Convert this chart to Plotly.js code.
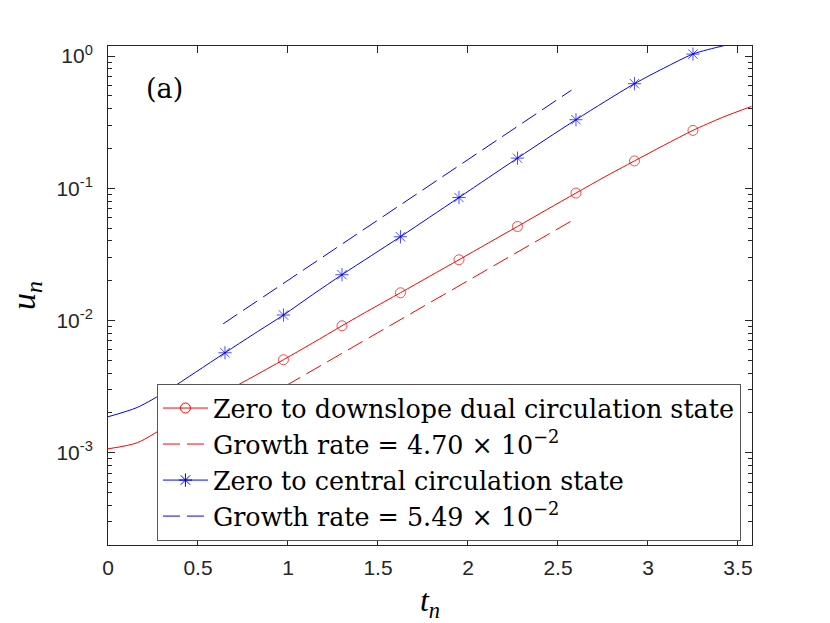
<!DOCTYPE html>
<html>
<head>
<meta charset="utf-8">
<script src="https://cdn.plot.ly/plotly-3.0.1.min.js"></script>
<style>
  html, body { margin: 0; padding: 0; background: #fff; }
  #chart { width: 830px; height: 623px; }
</style>
</head>
<body>
<div id="chart"></div>
<script>
// time samples of the two solid curves
const tCurve = [0, 0.1625, 0.325, 0.4875, 0.65, 0.8125, 0.975, 1.1375, 1.3, 1.4625, 1.625, 1.7875,
    1.95, 2.1125, 2.275, 2.4375, 2.6, 2.7625, 2.925, 3.0875, 3.25, 3.4125, 3.575];
const uDownslope = [1.07e-3, 1.19e-3, 1.59e-3, 2.16e-3, 2.88e-3, 3.80e-3, 5.05e-3, 6.76e-3, 9.12e-3,
    0.0122, 0.0162, 0.0216, 0.0288, 0.0385, 0.0514, 0.0689, 0.092, 0.1225, 0.161, 0.211, 0.274, 0.343, 0.416];
const uCentral = [1.87e-3, 2.20e-3, 2.92e-3, 4.07e-3, 5.70e-3, 7.94e-3, 0.0110, 0.0157, 0.0222,
    0.0309, 0.0430, 0.0605, 0.0851, 0.120, 0.169, 0.237, 0.330, 0.454, 0.618, 0.809, 1.035, 1.19, 1.32];

// where the markers sit on each curve
const downslopeMarkerT = [0.975, 1.3, 1.625, 1.95, 2.275, 2.6, 2.925, 3.25];
const centralMarkerT = [0.65, 0.975, 1.3, 1.625, 1.95, 2.275, 2.6, 2.925, 3.25];

// fitted growth-rate lines
const downslopeFitT = [0.64, 2.595];
const downslopeFitU = [1.71e-3, 0.0587];
const centralFitT = [0.64, 2.575];
const centralFitU = [9.44e-3, 0.552];

const legendNames = [
    'Zero to downslope dual circulation state',
    'Growth rate = 4.70 × 10<sup>−2</sup>',
    'Zero to central circulation state',
    'Growth rate = 5.49 × 10<sup>−2</sup>'
];

const yTickVals = [1e-3, 1e-2, 1e-1, 1];
const yTickText = ['10<sup>-3</sup>', '10<sup>-2</sup>', '10<sup>-1</sup>', '10<sup>0</sup>'];

const RED = '#ff0000';
const BLUE = '#0000ff';
const AXIS = '#262626';
const serif = '"DejaVu Serif", "Liberation Serif", serif';
const mathFont = '"Liberation Serif", "DejaVu Serif", serif';
const sans = '"Liberation Sans", Arial, sans-serif';

const sizesFor = (marks, sz) => tCurve.map(t => marks.some(m => Math.abs(m - t) < 1e-6) ? sz : 0);

const yMinor = [];
[1e-4, 1e-3, 1e-2, 1e-1].forEach(d => {
    for (let k = 2; k <= 9; k++) yMinor.push(d * k);
});

const redMarker = { symbol: 'circle-open', size: 10, color: RED, line: { width: 1, color: RED } };
const blueMarker = { symbol: 'asterisk-open', size: 11, color: BLUE, line: { width: 1, color: BLUE } };
const dash = '17px,7px';

const downslope = {
    x: tCurve, y: uDownslope,
    mode: 'lines+markers', showlegend: false,
    line: { color: RED, width: 1, shape: 'spline', smoothing: 0.8 },
    marker: Object.assign({}, redMarker, { size: sizesFor(downslopeMarkerT, 10) })
};
const downslopeFit = {
    x: downslopeFitT, y: downslopeFitU,
    mode: 'lines', showlegend: false,
    line: { color: RED, width: 1, dash: dash }
};
const central = {
    x: tCurve, y: uCentral,
    mode: 'lines+markers', showlegend: false,
    line: { color: BLUE, width: 1, shape: 'spline', smoothing: 0.8 },
    marker: Object.assign({}, blueMarker, { size: sizesFor(centralMarkerT, 11) })
};
const centralFit = {
    x: centralFitT, y: centralFitU,
    mode: 'lines', showlegend: false,
    line: { color: BLUE, width: 1, dash: dash }
};

// legend entries (no data of their own)
const legendKeys = [
    { mode: 'lines+markers', line: { color: RED, width: 1 }, marker: redMarker },
    { mode: 'lines', line: { color: RED, width: 1, dash: dash } },
    { mode: 'lines+markers', line: { color: BLUE, width: 1 }, marker: blueMarker },
    { mode: 'lines', line: { color: BLUE, width: 1, dash: dash } }
].map((k, i) => Object.assign({ x: [null], y: [null], name: legendNames[i], showlegend: true }, k));

const layout = {
    width: 830, height: 623,
    margin: { l: 108, r: 78, t: 46, b: 78 },
    paper_bgcolor: '#fff',
    plot_bgcolor: '#fff',
    font: { family: sans, size: 21, color: AXIS },
    showlegend: true,
    legend: {
        x: 0.076, y: 0.3226, xanchor: 'left', yanchor: 'top',
        bgcolor: '#fff', bordercolor: '#555', borderwidth: 1,
        font: { family: serif, size: 25.4, color: '#000' },
        itemwidth: 45,
        traceorder: 'normal'
    },
    xaxis: {
        range: [0, 3.578],
        tickmode: 'linear', tick0: 0, dtick: 0.5,
        ticks: 'inside', ticklen: 7, tickwidth: 1, tickcolor: AXIS,
        showline: true, linecolor: AXIS, linewidth: 1, mirror: 'ticks',
        showgrid: false, zeroline: false,
        tickfont: { family: sans, size: 21, color: AXIS },
        ticklabelstandoff: 4,
        title: { text: '<i>t<sub>n</sub></i>', font: { family: mathFont, size: 32, color: '#000' }, standoff: 10 }
    },
    yaxis: {
        type: 'log',
        range: [-3.698, 0.076],
        tickmode: 'array', tickvals: yTickVals, ticktext: yTickText,
        ticks: 'inside', ticklen: 7, tickwidth: 1, tickcolor: AXIS,
        minor: { tickmode: 'array', tickvals: yMinor, ticks: 'inside', ticklen: 4, tickwidth: 1, tickcolor: AXIS, showgrid: false },
        showline: true, linecolor: AXIS, linewidth: 1, mirror: 'ticks',
        showgrid: false, zeroline: false,
        tickfont: { family: sans, size: 21, color: AXIS },
        ticklabelstandoff: 10,
        title: { text: '<i>u<sub>n</sub></i>', font: { family: mathFont, size: 34, color: '#000' }, standoff: 10 }
    },
    // right-hand copy of the log axis so the minor ticks show on both sides
    yaxis2: {
        type: 'log', overlaying: 'y', side: 'right', anchor: 'x',
        range: [-3.698, 0.076],
        tickmode: 'array', tickvals: yTickVals, ticktext: ['', '', '', ''],
        ticks: 'inside', ticklen: 7, tickwidth: 1, tickcolor: AXIS,
        minor: { tickmode: 'array', tickvals: yMinor, ticks: 'inside', ticklen: 4, tickwidth: 1, tickcolor: AXIS, showgrid: false },
        showline: false, showgrid: false, zeroline: false, showticklabels: false
    },
    annotations: [{
        xref: 'paper', yref: 'paper', x: 0.087, y: 0.914,
        xanchor: 'center', yanchor: 'middle',
        text: '(a)', showarrow: false,
        font: { family: serif, size: 27, color: '#000' }
    }]
};

Plotly.newPlot('chart', [downslope, downslopeFit, central, centralFit].concat(legendKeys), layout, { staticPlot: true });
</script>
</body>
</html>
